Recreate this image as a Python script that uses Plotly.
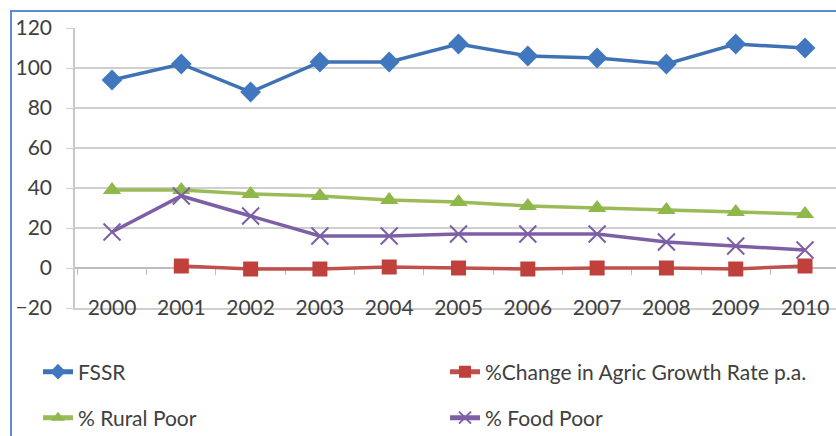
import plotly.graph_objects as go

years = [2000, 2001, 2002, 2003, 2004, 2005, 2006, 2007, 2008, 2009, 2010]
fssr = [94, 102, 88, 103, 103, 112, 106, 105, 102, 112, 110]
agric = [None, 1, -0.5, -0.5, 0.5, 0, -0.5, 0, 0, -0.5, 1]
rural = [39, 39, 37, 36, 34, 33, 31, 30, 29, 28, 27]
food = [18, 36, 26, 16, 16, 17, 17, 17, 13, 11, 9]
y_ticks = [-20, 0, 20, 40, 60, 80, 100, 120]

FONT = "Lato"
TXT = "#404040"
GRID = "#cfcfcf"

fig = go.Figure()
fig.add_trace(go.Scatter(x=years, y=fssr, name="FSSR", mode="lines+markers",
                         line=dict(color="#3F71B5", width=3.5),
                         marker=dict(symbol="diamond", size=16, color="#4177BE"),
                         legend="legend"))
fig.add_trace(go.Scatter(x=years, y=agric, name="%Change in Agric Growth Rate p.a.",
                         mode="lines+markers",
                         line=dict(color="#C0504D", width=3.5),
                         marker=dict(symbol="square", size=15, color="#C0403C"),
                         legend="legend2"))
fig.add_trace(go.Scatter(x=years, y=rural, name="% Rural Poor", mode="lines+markers",
                         line=dict(color="#9BBB59", width=3.5),
                         marker=dict(symbol="triangle-up", size=16, color="#8FB84A"),
                         legend="legend3"))
fig.add_trace(go.Scatter(x=years, y=food, name="% Food Poor", mode="lines+markers",
                         line=dict(color="#7D5FA6", width=3.5),
                         marker=dict(symbol="x-thin-open", size=17,
                                     line=dict(color="#C9BCDF", width=2)),
                         legend="legend4"))
# helper traces so the extra axes (zero crossing line, label row) are drawn
fig.add_trace(go.Scatter(x=[None], y=[None], xaxis="x2", showlegend=False,
                         hoverinfo="skip"))
fig.add_trace(go.Scatter(x=[None], y=[None], xaxis="x3", showlegend=False,
                         hoverinfo="skip"))

xr = [years[0] - 0.534, years[0] + 10.447]
boundaries = [y - 0.5 for y in years] + [years[-1] + 0.5]


def leg(xp, yp):
    return dict(orientation="h", x=(xp - 75) / 761, y=(308 - yp) / 280,
                xanchor="left", yanchor="middle", bgcolor="rgba(0,0,0,0)",
                font=dict(size=21, color=TXT), itemsizing="constant")


fig.update_layout(
    width=836, height=436,
    margin=dict(l=75, r=0, t=28, b=128, autoexpand=False),
    paper_bgcolor="white", plot_bgcolor="white",
    font=dict(family=FONT, size=21, color=TXT),
    xaxis=dict(range=xr, tickvals=years, showticklabels=False,
               showgrid=False, zeroline=False, showline=True, linecolor=GRID,
               linewidth=1.5, ticks=""),
    xaxis2=dict(range=xr, overlaying="x", anchor="free", position=20 / 140,
                tickvals=boundaries, showticklabels=False, ticks="outside",
                ticklen=6, tickcolor="#bdbdbd", showline=True, linecolor="#bdbdbd",
                linewidth=1.5, showgrid=False, zeroline=False, layer="below traces"),
    xaxis3=dict(range=xr, overlaying="x", anchor="free", position=(308 - 293) / 280,
                tickvals=years, ticktext=[str(y) for y in years], ticks="",
                showline=False, showgrid=False, zeroline=False,
                tickfont=dict(size=21, color=TXT)),
    yaxis=dict(range=[-20, 120], tickvals=y_ticks, showgrid=True, gridcolor=GRID,
               gridwidth=1.5, zeroline=False, showline=True, linecolor="#c8c8c8",
               linewidth=1.5, ticks="outside", ticklen=7, tickcolor=GRID,
               ticklabelstandoff=10, tickfont=dict(size=21, color=TXT)),
    legend=leg(38, 372),
    legend2=leg(445, 372),
    legend3=leg(38, 418),
    legend4=leg(445, 418),
    shapes=[dict(type="rect", xref="paper", yref="paper",
                 x0=(11 - 75) / 761, x1=1.2, y0=-2, y1=(308 - 11) / 280,
                 line=dict(color="#5B8DD0", width=2), fillcolor="rgba(0,0,0,0)",
                 layer="below")],
)

fig.write_html("out.html")
